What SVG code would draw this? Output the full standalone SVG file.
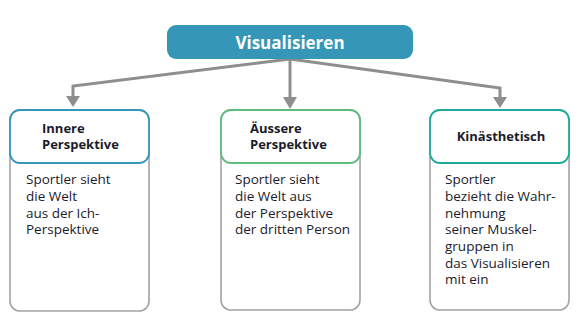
<svg xmlns="http://www.w3.org/2000/svg" width="580" height="324" viewBox="0 0 580 324">
<style>
.body{fill:#fff;stroke:#a3a3a3;stroke-width:1.6}
.hd{fill:#fff;stroke-width:1.8}
.t{font-family:"Open Sans","Noto Sans",sans-serif;font-size:13.5px;fill:#1b1b2b}
.b{font-weight:bold;font-size:13px}
.con{fill:none;stroke:#8e8e8e;stroke-width:3}
.ah{fill:#8e8e8e}
</style>
<g id="connectors">
<path class="con" d="M290,59 L73,86 L73,97"/>
<polygon class="ah" points="66,96 80,96 73,107"/>
<path class="con" d="M290,59 L290,97"/>
<polygon class="ah" points="283,97 297,97 290,109"/>
<path class="con" d="M290,59 L500,88 L500,97"/>
<polygon class="ah" points="493,97 507,97 500,108"/>
</g>
<g id="root">
<rect x="167" y="25" width="246" height="34" rx="9" fill="#3596b8"/>
<text x="290" y="48.5" text-anchor="middle" font-family="'Open Sans','Noto Sans',sans-serif" font-size="17" font-weight="bold" fill="#fff">Visualisieren</text>
</g>
<g id="innere">
<rect class="body" x="10" y="110" width="139" height="201" rx="10"/>
<rect class="hd" x="10" y="110" width="139" height="53" rx="10" stroke="#3596b8"/>
<text class="t b" x="42" y="133">Innere</text>
<text class="t b" x="42" y="149">Perspektive</text>
<text class="t" x="26" y="184">Sportler sieht</text>
<text class="t" x="26" y="201">die Welt</text>
<text class="t" x="26" y="218">aus der Ich-</text>
<text class="t" x="26" y="234">Perspektive</text>
</g>
<g id="aeussere">
<rect class="body" x="221" y="110" width="139" height="200" rx="10"/>
<rect class="hd" x="221" y="110" width="139" height="53" rx="10" stroke="#5dbb7c"/>
<text class="t b" x="250" y="133">Äussere</text>
<text class="t b" x="250" y="149">Perspektive</text>
<text class="t" x="235" y="184">Sportler sieht</text>
<text class="t" x="235" y="201">die Welt aus</text>
<text class="t" x="235" y="218">der Perspektive</text>
<text class="t" x="235" y="234">der dritten Person</text>
</g>
<g id="kinaesthetisch">
<rect class="body" x="430" y="110" width="139" height="200" rx="10"/>
<rect class="hd" x="430" y="110" width="139" height="53" rx="10" stroke="#1ea99c"/>
<text class="t b" x="501" y="141" text-anchor="middle">Kinästhetisch</text>
<text class="t" x="445" y="184">Sportler</text>
<text class="t" x="445" y="201">bezieht die Wahr-</text>
<text class="t" x="445" y="218">nehmung</text>
<text class="t" x="445" y="234">seiner Muskel-</text>
<text class="t" x="445" y="251">gruppen in</text>
<text class="t" x="445" y="268">das Visualisieren</text>
<text class="t" x="445" y="284">mit ein</text>
</g>
</svg>
